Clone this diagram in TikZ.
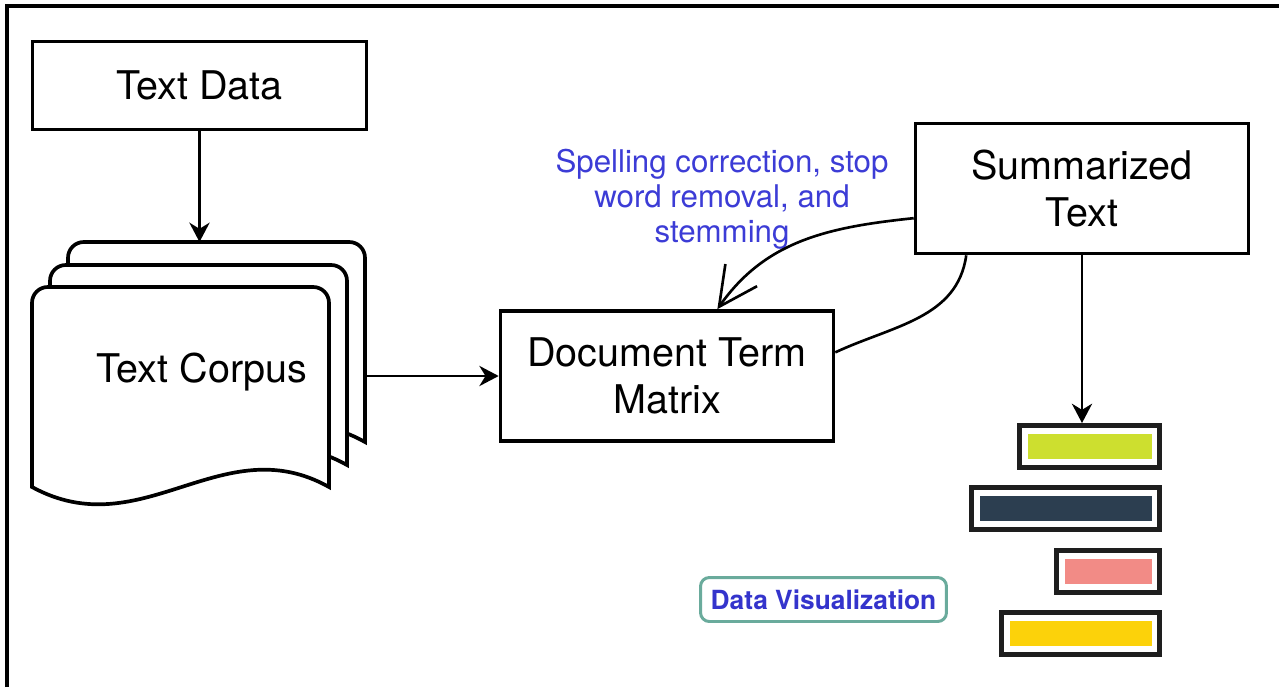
\documentclass[tikz,border=0pt]{standalone}
\usepackage{fontspec}
\setmainfont{TeX Gyre Heros}
\usetikzlibrary{arrows.meta}

\definecolor{notecol}{HTML}{3C3CD6}
\definecolor{dviscol}{HTML}{3434CC}
\definecolor{dvisline}{HTML}{6AAB9C}
\definecolor{barline}{HTML}{1E1E1E}
\definecolor{barlime}{HTML}{CDDF2F}
\definecolor{barnavy}{HTML}{2C3E50}
\definecolor{barsalmon}{HTML}{F28B86}
\definecolor{bargold}{HTML}{FCD20A}

\tikzset{
  box/.style={draw, line width=2.1pt, minimum width=6.66cm, minimum height=2.6cm,
    align=center, font=\fontsize{22.5}{27}\selectfont},
  page/.style={draw, fill=white, line width=2.1pt},
  arrow/.style={line width=1.5pt, -{Stealth[length=11pt,width=11.5pt,inset=3.5pt]}},
  barb/.style={line width=1.5pt, -{Straight Barb[length=22pt,width=22pt]}},
  barframe/.style={draw=barline, fill=white, line width=2.8pt, inner sep=0pt},
  barfill/.style={fill=#1, inner sep=0pt},
  note/.style={text=notecol, align=center, font=\fontsize{17.8}{20}\selectfont},
  dvis/.style={draw=dvisline, line width=1.7pt, rounded corners=5pt, text=dviscol,
    minimum width=4.92cm, minimum height=0.88cm, font=\bfseries\fontsize{15}{18}\selectfont}
}

\begin{document}
\begin{tikzpicture}[x=0.02cm, y=-0.02cm]
  \useasboundingbox (0,0) rectangle (1279,687);
  \draw[line width=2pt] (7,687) -- (7,6) -- (1279,6);

  \node[box, minimum width=6.68cm, minimum height=1.76cm] (data) at (199.5,85.5) {Text Data};

  % stacked pages, back one first
  \foreach \dx/\dy in {36/-45, 18/-22, 0/0} {
    \draw[page, shift={(\dx,\dy)}] (32,487) [rounded corners=9pt] -- (32,287) -- (329,287)
      [sharp corners] -- (329,487) .. controls (222,427) and (142,547) .. (32,487) -- cycle;
  }
  \node[font=\fontsize{22.5}{27}\selectfont] (corpus) at (202,372) {Text Corpus};
  \coordinate (stacktop) at (199.5,242);
  \coordinate (stackright) at (365,376);

  \node[box] (dtm) at (667,376) {Document Term\\Matrix};
  \node[box] (summary) at (1082,188.5) {Summarized\\Text};
  \node[note] (note) at (722,199) {Spelling correction, stop\\word removal, and\\stemming};

  \draw[arrow] (data.south) -- (stacktop);
  \draw[arrow] (stackright) -- (dtm.west);
  \draw[barb] (summary.190) to[out=186,in=55] (dtm.53);
  \draw[line width=1.5pt] (summary.210) to[out=262,in=25] (dtm.8);

  % bars
  \foreach \n/\l/\t/\c in {bar1/1017/423/barlime, bar2/969/485/barnavy,
                           bar3/1054/548/barsalmon, bar4/999/610/bargold} {
    \node[barframe, minimum width={(1157-\l)*0.02cm}, minimum height=0.84cm] (\n) at ({(\l+1162)/2},{\t+23.5}) {};
    \node[barfill=\c, minimum width={(1141-\l)*0.02cm}, minimum height=0.5cm] at (\n) {};
  }
  \draw[arrow] (summary.south) -- (summary.south |- bar1.north);

  \node[dvis] (dvis) at (823.5,599.5) {Data Visualization};
\end{tikzpicture}
\end{document}
